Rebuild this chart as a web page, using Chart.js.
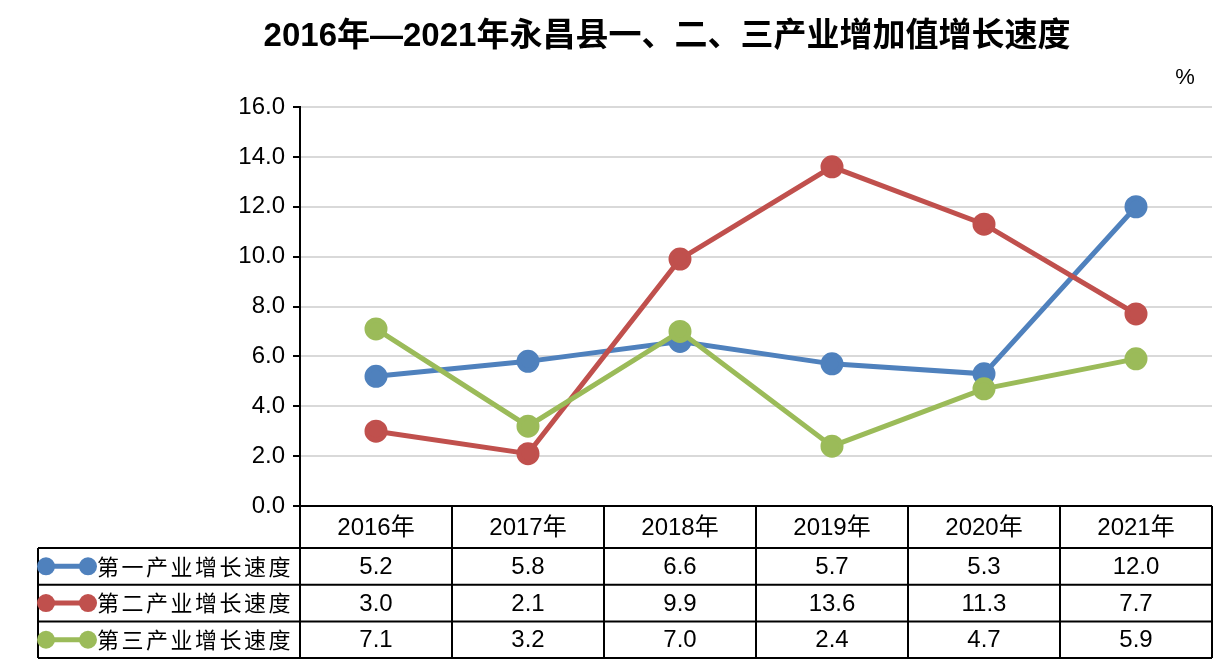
<!DOCTYPE html>
<html>
<head>
<meta charset="utf-8">
<script src="https://cdn.jsdelivr.net/npm/chart.js@4"></script>
<style>
  html, body { margin: 0; padding: 0; background: #fff; }
  #wrap { width: 1232px; height: 665px; }
</style>
</head>
<body>
<div id="wrap"><canvas id="chart" width="1232" height="665"></canvas></div>
<script>
// chart data
const years = ["2016年", "2017年", "2018年", "2019年", "2020年", "2021年"];
const seriesNames = ["第一产业增长速度", "第二产业增长速度", "第三产业增长速度"];
const primary = [5.2, 5.8, 6.6, 5.7, 5.3, 12.0];
const secondary = [3.0, 2.1, 9.9, 13.6, 11.3, 7.7];
const tertiary = [7.1, 3.2, 7.0, 2.4, 4.7, 5.9];
const yTicks = [0, 2, 4, 6, 8, 10, 12, 14, 16];

const titleText = "2016年—2021年永昌县一、二、三产业增加值增长速度";
const unitText = "%";
const colors = ["#4f81bd", "#c0504d", "#9bbb59"];
const numFont = '"Liberation Sans", Arial, sans-serif';
const cjkFont = '"Liberation Sans", "Noto Sans CJK SC", sans-serif';

const makeSet = (label, data, color, order) => ({
  label,
  data,
  borderColor: color,
  backgroundColor: color,
  pointBackgroundColor: color,
  pointBorderColor: color,
  borderWidth: 5,
  pointRadius: 9,
  pointHoverRadius: 9,
  tension: 0,
  fill: false,
  order,
});

// title, unit label and the data table under the plot
const tablePlugin = {
  id: "dataTable",
  afterDraw(chart) {
    const ctx = chart.ctx;
    const ca = chart.chartArea;
    const x = chart.scales.x;
    const colW = x.getPixelForValue(1) - x.getPixelForValue(0);
    const headerH = 42;
    const rowH = 36.7;
    const legendLeft = 38;
    const top = ca.bottom;
    const bottom = top + headerH + rowH * seriesNames.length;
    const allSeries = [primary, secondary, tertiary];

    ctx.save();
    // title
    ctx.fillStyle = "#000";
    ctx.textAlign = "center";
    ctx.textBaseline = "middle";
    ctx.font = 'bold 33px ' + cjkFont;
    ctx.fillText(titleText, 667, 37);
    ctx.font = '22px ' + numFont;
    ctx.fillText(unitText, 1185, 78);

    // grid of the table
    ctx.strokeStyle = "#000";
    ctx.lineWidth = 2;
    ctx.beginPath();
    ctx.moveTo(ca.left, top);
    ctx.lineTo(ca.right, top);
    for (let r = 0; r <= seriesNames.length; r++) {
      const y = top + headerH + r * rowH;
      ctx.moveTo(legendLeft, y);
      ctx.lineTo(ca.right, y);
    }
    ctx.moveTo(legendLeft, top + headerH);
    ctx.lineTo(legendLeft, bottom);
    for (let c = 0; c <= years.length; c++) {
      const xx = ca.left + c * colW;
      ctx.moveTo(xx, top);
      ctx.lineTo(xx, bottom);
    }
    ctx.stroke();

    // header labels
    ctx.font = '24px ' + cjkFont;
    years.forEach((yr, i) => {
      ctx.fillText(yr, x.getPixelForValue(i), top + headerH / 2 + 1);
    });

    // rows
    seriesNames.forEach((name, r) => {
      const cy = top + headerH + r * rowH + rowH / 2;
      // legend marker
      ctx.strokeStyle = colors[r];
      ctx.fillStyle = colors[r];
      ctx.lineWidth = 5;
      ctx.beginPath();
      ctx.moveTo(46, cy);
      ctx.lineTo(88, cy);
      ctx.stroke();
      [46, 88].forEach((px) => {
        ctx.beginPath();
        ctx.arc(px, cy, 9, 0, Math.PI * 2);
        ctx.fill();
      });
      ctx.fillStyle = "#000";
      ctx.textAlign = "left";
      ctx.font = '22px "Noto Sans CJK SC", sans-serif';
      ctx.letterSpacing = "2.5px";
      ctx.fillText(name, 97, cy);
      ctx.letterSpacing = "0px";
      ctx.textAlign = "center";
      ctx.font = '24px ' + numFont;
      allSeries[r].forEach((v, i) => {
        ctx.fillText(v.toFixed(1), x.getPixelForValue(i), cy + 1);
      });
    });
    ctx.restore();
  },
};

const chart = new Chart(document.getElementById("chart"), {
  type: "line",
  data: {
    labels: years,
    datasets: [
      makeSet(seriesNames[0], primary, colors[0], 3),
      makeSet(seriesNames[1], secondary, colors[1], 2),
      makeSet(seriesNames[2], tertiary, colors[2], 1),
    ],
  },
  options: {
    responsive: false,
    animation: false,
    layout: { padding: { top: 107, bottom: 159, left: 0, right: 20 } },
    plugins: {
      legend: { display: false },
      title: { display: false },
      tooltip: { enabled: false },
    },
    scales: {
      x: {
        type: "category",
        display: false,
        offset: true,
      },
      y: {
        min: yTicks[0],
        max: yTicks[yTicks.length - 1],
        afterFit: (scale) => { scale.width = 300; },
        afterBuildTicks: (scale) => {
          scale.ticks = yTicks.map((v) => ({ value: v }));
        },
        grid: {
          color: "#d9d9d9",
          lineWidth: 2,
          tickColor: "#000",
          tickLength: 7,
          drawTicks: true,
        },
        border: { color: "#000", width: 2 },
        ticks: {
          padding: 8,
          color: "#000",
          font: { family: numFont, size: 24 },
          callback: (v) => Number(v).toFixed(1),
        },
      },
    },
  },
  plugins: [tablePlugin],
});
</script>
</body>
</html>
